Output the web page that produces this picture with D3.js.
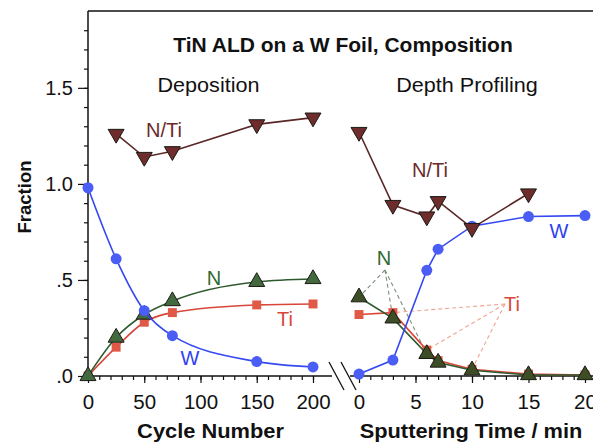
<!DOCTYPE html>
<html>
<head>
<meta charset="utf-8">
<script src="https://cdn.jsdelivr.net/npm/d3@7"></script>
<style>
  body { margin: 0; background: #fff; }
  svg { display: block; font-family: "Liberation Sans", Arial, Helvetica, sans-serif; }
</style>
</head>
<body>
<svg id="chart" width="593" height="444"></svg>
<script>
// deposition (cycle number)
var cycles = [0, 25, 50, 75, 150, 200];
var depW = [0.98, 0.61, 0.34, 0.21, 0.075, 0.047];
var depN = [0.0, 0.20, 0.32, 0.39, 0.49, 0.505];
var depTi = [0.0, 0.15, 0.28, 0.33, 0.37, 0.375];
var depNTiX = [25, 50, 75, 150, 200];
var depNTi = [1.26, 1.14, 1.17, 1.31, 1.345];

// depth profiling (sputtering time, min)
var times = [0, 3, 6, 7, 10, 15, 20];
var proW = [0.01, 0.083, 0.55, 0.66, 0.78, 0.83, 0.835];
var proN = [0.41, 0.30, 0.115, 0.07, 0.03, 0.005, 0.005];
var proTi = [0.32, 0.33, 0.135, 0.08, 0.035, 0.01, 0.005];
var proNTiX = [0, 3, 6, 7, 10, 15];
var proNTi = [1.27, 0.89, 0.83, 0.91, 0.77, 0.95];

var yTicks = [0, 0.5, 1.0, 1.5];
var yTickLabels = [".0", ".5", "1.0", "1.5"];
var cycleTicks = [0, 50, 100, 150, 200];
var timeTicks = [0, 5, 10, 15, 20];

var col = {
  W: "#3548f2", Wfill: "#4a5ef6",
  N: "#2f5a2f", Nfill: "#43693f",
  Ti: "#d8473a", Tifill: "#e05846",
  NTi: "#5a2727", NTifill: "#6e2c2c"
};

var svg = d3.select("#chart");

var y = d3.scaleLinear().domain([0, 1.9]).range([376, 11]);
var xL = d3.scaleLinear().domain([0, 200]).range([88, 313]);
var xR = d3.scaleLinear().domain([0, 20]).range([359, 585]);

/* frame */
svg.append("line").attr("x1", 88).attr("x2", 593).attr("y1", y(1.9)).attr("y2", y(1.9))
  .attr("stroke", "#111").attr("stroke-width", 1.5);
svg.append("line").attr("x1", 88).attr("x2", 88).attr("y1", y(1.9)).attr("y2", y(0))
  .attr("stroke", "#111").attr("stroke-width", 1.5);
svg.append("line").attr("x1", 88).attr("x2", 332).attr("y1", y(0)).attr("y2", y(0))
  .attr("stroke", "#111").attr("stroke-width", 1.5);
svg.append("line").attr("x1", 350).attr("x2", 593).attr("y1", y(0)).attr("y2", y(0))
  .attr("stroke", "#111").attr("stroke-width", 1.5);
// axis break
[0, 12].forEach(function(o) {
  svg.append("line").attr("x1", 329 + o).attr("y1", 362).attr("x2", 344 + o).attr("y2", 390)
    .attr("stroke", "#111").attr("stroke-width", 1.3);
});

/* y axis */
var gy = svg.append("g").attr("transform", "translate(88,0)");
gy.call(d3.axisLeft(y).tickValues(d3.range(1, 19).map(function(d){ return d / 10; })).tickSize(4).tickFormat(""));
gy.append("g").call(d3.axisLeft(y).tickValues(yTicks).tickSize(10).tickPadding(5)
  .tickFormat(function(d, i){ return yTickLabels[i]; }));
gy.selectAll(".domain").remove();
gy.selectAll("line").attr("stroke", "#111").attr("stroke-width", 1.2);
gy.selectAll("text").attr("font-size", 20).attr("fill", "#111").attr("font-family", "Liberation Sans, Arial, sans-serif");

/* x axes */
function xAxis(scale, minor, major) {
  var g = svg.append("g").attr("transform", "translate(0," + y(0) + ")");
  g.call(d3.axisBottom(scale).tickValues(minor).tickSize(4).tickFormat(""));
  g.append("g").call(d3.axisBottom(scale).tickValues(major).tickSize(7).tickPadding(11).tickFormat(d3.format("d")));
  g.selectAll(".domain").remove();
  g.selectAll("line").attr("stroke", "#111").attr("stroke-width", 1.2);
  g.selectAll("text").attr("font-size", 20.5).attr("fill", "#111").attr("font-family", "Liberation Sans, Arial, sans-serif");
}
xAxis(xL, d3.range(10, 210, 10), cycleTicks);
xAxis(xR, d3.range(1, 21, 1), timeTicks);

/* titles (reference type is a little wider than Liberation Sans) */
function title(x, yy, t, size, bold, sx) {
  svg.append("text").attr("transform", "translate(" + x + "," + yy + ") scale(" + sx + ",1)")
    .attr("text-anchor", "middle").attr("font-size", size)
    .attr("font-weight", bold ? "bold" : "normal").attr("fill", "#111").text(t);
}
title(343, 52, "TiN ALD on a W Foil, Composition", 21, true, 1);
title(208.5, 92, "Deposition", 20, false, 1.08);
title(467, 92, "Depth Profiling", 20, false, 1.08);
title(210.5, 438, "Cycle Number", 19.5, true, 1.12);
title(471, 438, "Sputtering Time / min", 19.5, true, 1.12);
svg.append("text").attr("transform", "translate(31,197) rotate(-90)").attr("text-anchor", "middle")
  .attr("font-size", 18.5).attr("font-weight", "bold").attr("fill", "#111").text("Fraction");

/* leader lines (depth profiling labels) */
var lead = svg.append("g").attr("fill", "none").attr("stroke-dasharray", "4,3").attr("stroke-width", 1.1);
[0, 1, 2].forEach(function(i) {
  lead.append("line").attr("x1", 385).attr("y1", 270)
    .attr("x2", xR(times[i])).attr("y2", y(proN[i])).attr("stroke", "#7f8f7f");
});
[1, 2, 4].forEach(function(i) {
  lead.append("line").attr("x1", 505).attr("y1", 304)
    .attr("x2", xR(times[i])).attr("y2", y(proTi[i])).attr("stroke", "#f2a394");
});

/* series */
function series(xs, ys, xscale, curve, stroke, fill, shape, size) {
  var pts = xs.map(function(d, i){ return [xscale(d), y(ys[i])]; });
  svg.append("path").attr("d", d3.line().curve(curve)(pts))
    .attr("fill", "none").attr("stroke", stroke).attr("stroke-width", 1.6);
  svg.append("g").selectAll("path").data(pts).enter().append("path")
    .attr("transform", function(d){ return "translate(" + d[0] + "," + d[1] + ")" + (shape === "down" ? " rotate(180)" : ""); })
    .attr("d", d3.symbol().type(shape === "circle" ? d3.symbolCircle : shape === "square" ? d3.symbolSquare : d3.symbolTriangle).size(size))
    .attr("fill", fill)
    .attr("stroke", shape === "circle" || shape === "square" ? "none" : "#1b1b14")
    .attr("stroke-width", 1);
}

series(cycles, depTi, xL, d3.curveMonotoneX, col.Ti, col.Tifill, "square", 80);
series(cycles, depN, xL, d3.curveMonotoneX, col.N, col.Nfill, "up", 110);
series(cycles, depW, xL, d3.curveMonotoneX, col.W, col.Wfill, "circle", 95);
series(depNTiX, depNTi, xL, d3.curveLinear, col.NTi, col.NTifill, "down", 110);

series(times, proTi, xR, d3.curveLinear, col.Ti, col.Tifill, "square", 80);
series(times, proN, xR, d3.curveLinear, col.N, "#3d4d26", "up", 110);
series(times, proW, xR, d3.curveLinear, col.W, col.Wfill, "circle", 95);
series(proNTiX, proNTi, xR, d3.curveLinear, col.NTi, col.NTifill, "down", 110);

/* series labels */
function label(x, yy, t, c) {
  svg.append("text").attr("x", x).attr("y", yy).attr("text-anchor", "middle")
    .attr("font-size", 20).attr("fill", c).text(t);
}
label(164, 137, "N/Ti", "#6b2a2a");
label(430, 177, "N/Ti", "#6b2a2a");
label(214, 285, "N", "#2f6b2f");
label(285, 326, "Ti", "#d8473a");
label(190, 365, "W", "#2f3ff0");
label(384, 265, "N", "#2f6b2f");
label(512, 311, "Ti", "#d8473a");
label(559, 238, "W", "#2f3ff0");
</script>
</body>
</html>
